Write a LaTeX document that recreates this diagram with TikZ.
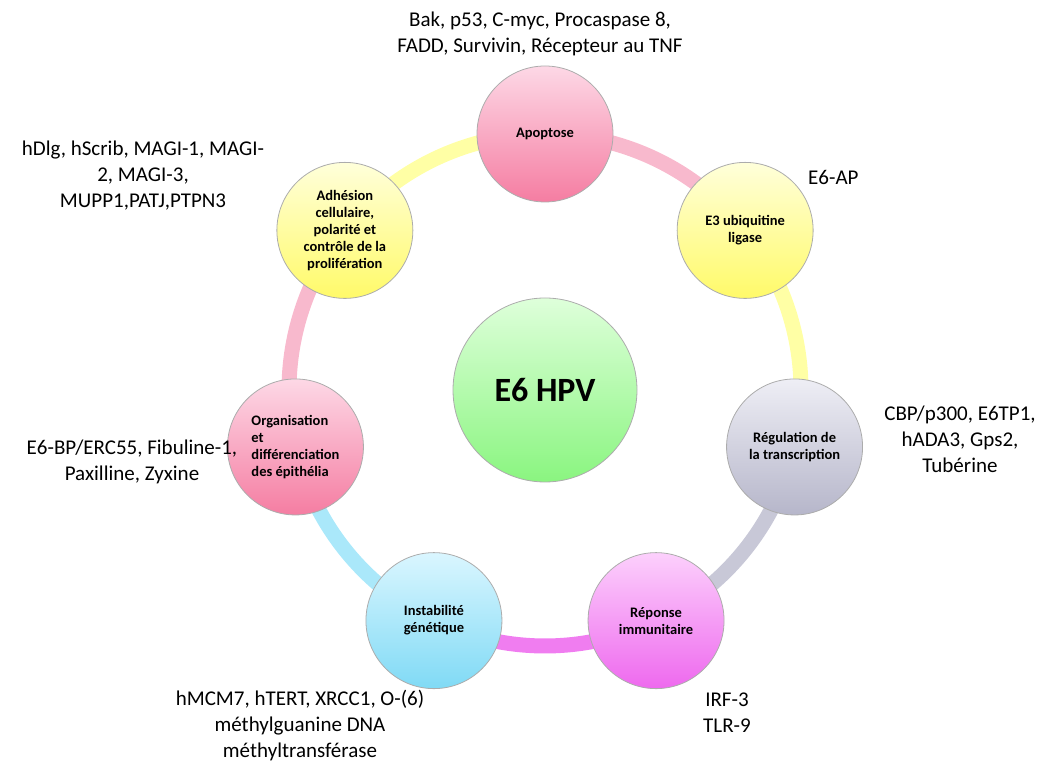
\documentclass[tikz,border=0pt]{standalone}
\usepackage{fontspec}
\setmainfont{Carlito}
\usetikzlibrary{calc}

% bubble fills (top / bottom of the vertical gradient)
\definecolor{pinkTop}{RGB}{253,216,230}
\definecolor{pinkBot}{RGB}{245,125,162}
\definecolor{yelTop}{RGB}{255,255,218}
\definecolor{yelBot}{RGB}{255,250,105}
\definecolor{greyTop}{RGB}{238,238,245}
\definecolor{greyBot}{RGB}{182,182,202}
\definecolor{magTop}{RGB}{252,208,252}
\definecolor{magBot}{RGB}{238,105,238}
\definecolor{cyanTop}{RGB}{218,246,255}
\definecolor{cyanBot}{RGB}{128,218,245}
\definecolor{greenTop}{RGB}{222,255,218}
\definecolor{greenBot}{RGB}{138,245,128}
% ring segments
\definecolor{arcPink}{RGB}{248,185,205}
\definecolor{arcYellow}{RGB}{255,255,165}
\definecolor{arcGrey}{RGB}{200,200,215}
\definecolor{arcMagenta}{RGB}{240,125,240}
\definecolor{arcCyan}{RGB}{170,232,250}

\begin{document}
\begin{tikzpicture}[x=1pt,y=1pt,
  bubble/.style={circle, minimum size=136pt, inner sep=0pt, draw=gray!65,
    line width=0.8pt, align=center,
    font=\bfseries\fontsize{14.5}{17}\selectfont},
  hub/.style={circle, minimum size=184pt, inner sep=0pt, draw=gray!65,
    line width=0.8pt, top color=greenTop, bottom color=greenBot,
    font=\bfseries\fontsize{34}{40}\selectfont},
  note/.style={font=\fontsize{21}{26}\selectfont, align=center, inner sep=0pt},
  band/.style={line width=15pt}]
\useasboundingbox (0,0) rectangle (1042,765);
\coordinate (c) at (545,375);

% ring of coloured segments linking the bubbles
\foreach \k/\col in {0/arcPink,1/arcYellow,2/arcGrey,3/arcMagenta,4/arcCyan,5/arcPink,6/arcYellow}{
  \pgfmathsetmacro\a{90-\k*360/7}
  \pgfmathsetmacro\b{90-(\k+1)*360/7}
  \draw[band,color=\col] ([shift={(\a:256)}]c) arc[start angle=\a, end angle=\b, radius=256];
}

% central protein
\node[hub] (hpv) at (c) {E6 HPV};

% functions around the ring
\node[bubble, top color=pinkTop, bottom color=pinkBot] (apo) at ([shift={(90:256)}]c) {Apoptose};
\node[bubble, top color=yelTop, bottom color=yelBot] (ubi) at ([shift={(38.571:256)}]c) {E3 ubiquitine\\ligase};
\node[bubble, top color=greyTop, bottom color=greyBot] (trans) at ([shift={(-12.857:256)}]c) {Régulation de\\la transcription};
\node[bubble, top color=magTop, bottom color=magBot] (immu) at ([shift={(-64.286:256)}]c) {Réponse\\immunitaire};
\node[bubble, top color=cyanTop, bottom color=cyanBot] (gen) at ([shift={(-115.714:256)}]c) {Instabilité\\génétique};
\node[bubble, top color=pinkTop, bottom color=pinkBot, align=left] (epi) at ([shift={(-167.143:256)}]c) {Organisation\\et\\différenciation\\des épithélia};
\node[bubble, top color=yelTop, bottom color=yelBot] (adh) at ([shift={(141.429:256)}]c) {Adhésion\\cellulaire,\\polarité et\\contrôle de la\\prolifération};

% partner proteins
\node[note] (apoList) at (540,731) {Bak, p53, C-myc, Procaspase 8,\\FADD, Survivin, Récepteur au TNF};
\node[note, anchor=west] (ubiList) at (808,588) {E6-AP};
\node[note] (transList) at (960,326) {CBP/p300, E6TP1,\\hADA3, Gps2,\\Tubérine};
\node[note] (immuList) at (727,52) {IRF-3\\TLR-9};
\node[note] (genList) at (300,39) {hMCM7, hTERT, XRCC1, O-(6)\\méthylguanine DNA\\méthyltransférase};
\node[note] (epiList) at (132,303) {E6-BP/ERC55, Fibuline-1,\\Paxilline, Zyxine};
\node[note] (adhList) at (143,589) {hDlg, hScrib, MAGI-1, MAGI-\\2, MAGI-3,\\MUPP1,PATJ,PTPN3};
\end{tikzpicture}
\end{document}
